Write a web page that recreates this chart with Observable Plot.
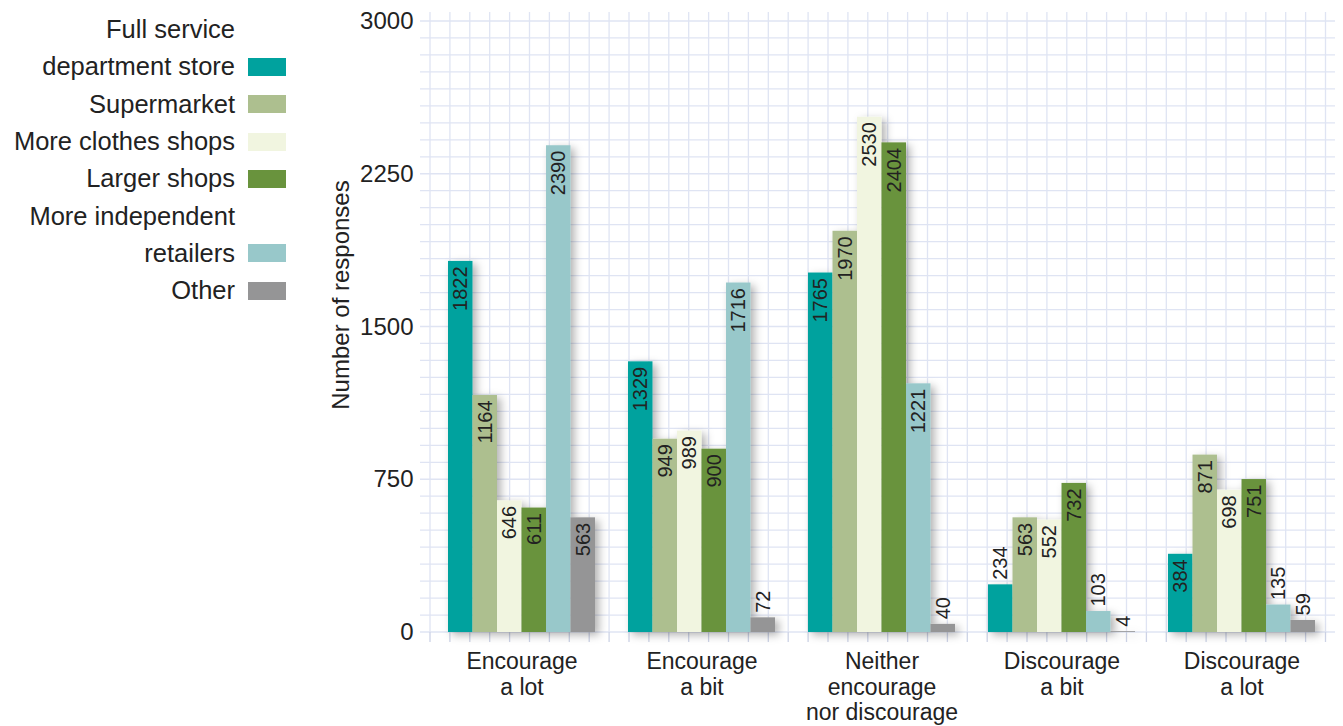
<!DOCTYPE html>
<html>
<head>
<meta charset="utf-8">
<script src="https://cdn.jsdelivr.net/npm/d3@7"></script>
<script src="https://cdn.jsdelivr.net/npm/@observablehq/plot@0.6"></script>
<style>
  html, body { margin: 0; padding: 0; background: #fff; }
  #chart { position: relative; width: 1343px; height: 726px; font-family: "Liberation Sans", Arial, sans-serif; color: #222; }
  #chart svg { position: absolute; left: 0; top: 0; }
  #legend { position: absolute; left: 0; top: 11px; width: 290px; z-index: 2; }
  #legend .row { height: 37.3px; display: flex; align-items: center; justify-content: flex-end; font-size: 25.5px; white-space: nowrap; }
  #legend .sw { width: 38px; height: 18px; margin-left: 13px; margin-right: 4px; flex: none; }
</style>
</head>
<body>
<div id="chart"><div id="legend"></div></div>
<script>
// Survey answers: how each kind of shop would affect visits to the town centre
const groups = [
  "Encourage\na lot",
  "Encourage\na bit",
  "Neither\nencourage\nnor discourage",
  "Discourage\na bit",
  "Discourage\na lot"
];
const series = [
  "Full service\ndepartment store",
  "Supermarket",
  "More clothes shops",
  "Larger shops",
  "More independent\nretailers",
  "Other"
];
const colors = ["#00a29e", "#adbf8f", "#f1f5e0", "#69933d", "#98c8ca", "#959596"];

// Number of responses per answer, one array per series (in group order)
const departmentStore = [1822, 1329, 1765, 234, 384];
const supermarket     = [1164,  949, 1970, 563, 871];
const clothesShops    = [ 646,  989, 2530, 552, 698];
const largerShops     = [ 611,  900, 2404, 732, 751];
const independents    = [2390, 1716, 1221, 103, 135];
const other           = [ 563,   72,   40,   4,  59];
const seriesValues = [departmentStore, supermarket, clothesShops, largerShops, independents, other];

const yTicks = [0, 750, 1500, 2250, 3000];
const yTitle = "Number of responses";

// Tidy rows for the marks
const rows = [];
series.forEach((s, i) => groups.forEach((g, j) => rows.push({series: s, si: i, group: g, value: seriesValues[i][j]})));

// Layout
const W = 1343, H = 726, mL = 431, mR = 12, mT = 21, mB = 94;
const padIn = 0.185, padOut = 0.087;
const step = (W - mL - mR) / (groups.length - padIn + 2 * padOut);
const bandW = step * (1 - padIn);
const barW = bandW / series.length;

// Graph-paper background: light rules across the whole frame, ticks under the baseline
function paper(index, {y}, channels, dims) {
  const g = d3.create("svg:g").attr("fill", "none");
  const left = dims.marginLeft - 1, right = dims.width - 8;
  const y0 = y(0), yTop = y(3000);
  const lines = g.append("g").attr("stroke", "#dfe4f3").attr("stroke-width", 1.3);
  for (const v of d3.range(0, 3000.01, 3000 / 36)) {
    lines.append("line").attr("x1", left - 10).attr("x2", right).attr("y1", y(v)).attr("y2", y(v));
  }
  const ticks = g.append("g").attr("stroke", "#cdd3e6").attr("stroke-width", 1.3);
  for (let x = left; x <= right; x += 19.9) {
    lines.append("line").attr("x1", x).attr("x2", x).attr("y1", yTop - 9).attr("y2", y0);
    ticks.append("line").attr("x1", x).attr("x2", x).attr("y1", y0).attr("y2", y0 + 10);
  }
  return g.node();
}

const barMarks = series.map((s, i) =>
  Plot.barY(rows.filter(r => r.si === i), {
    x: "group", y: "value", fill: colors[i],
    insetLeft: i * barW, insetRight: (series.length - 1 - i) * barW
  })
);

// Value labels: inside the top of tall bars, above short ones
const labelMarks = series.flatMap((s, i) => {
  const dx = -bandW / 2 + (i + 0.5) * barW;
  const mine = rows.filter(r => r.si === i);
  return [
    Plot.text(mine.filter(r => r.value >= 300), {
      x: "group", y: "value", text: d => String(d.value), rotate: -90,
      textAnchor: "end", dx, dy: 5, fontSize: 20
    }),
    Plot.text(mine.filter(r => r.value < 300), {
      x: "group", y: "value", text: d => String(d.value), rotate: -90,
      textAnchor: "start", dx, dy: -5, fontSize: 20
    })
  ];
});

const svg = Plot.plot({
  width: W, height: H,
  marginLeft: mL, marginRight: mR, marginTop: mT, marginBottom: mB,
  style: {fontFamily: "'Liberation Sans', Arial, sans-serif", fontSize: "23px", color: "#222", background: "transparent", overflow: "visible"},
  x: {domain: groups, paddingInner: padIn, paddingOuter: padOut, axis: null},
  y: {domain: [0, 3000], axis: null},
  marks: [
    paper,
    ...barMarks,
    ...labelMarks,
    Plot.text(yTicks, {y: d => d, text: d => String(d), frameAnchor: "left", textAnchor: "end", dx: -18, fontSize: 24}),
    Plot.text(groups, {x: d => d, text: d => d, frameAnchor: "bottom", textAnchor: "middle", lineAnchor: "top", lineHeight: 1.12, dy: 18, fontSize: 23}),
    Plot.text([yTitle], {text: d => d, frameAnchor: "left", textAnchor: "middle", rotate: -90, dx: -90, dy: -32, fontSize: 24})
  ]
});

// Soft drop shadow under all the bars together
const ns = "http://www.w3.org/2000/svg";
const defs = document.createElementNS(ns, "defs");
defs.innerHTML = '<filter id="barShadow" x="-10%" y="-10%" width="130%" height="130%">' +
  '<feDropShadow dx="4" dy="3" stdDeviation="4" flood-color="#000" flood-opacity="0.3"/></filter>';
svg.insertBefore(defs, svg.firstChild);
const barGroups = svg.querySelectorAll('g[aria-label="bar"]');
const wrap = document.createElementNS(ns, "g");
wrap.setAttribute("filter", "url(#barShadow)");
barGroups[0].parentNode.insertBefore(wrap, barGroups[0]);
barGroups.forEach(g => wrap.appendChild(g));

document.getElementById("chart").appendChild(svg);

// Legend: right-aligned names with a swatch on the last line of each
const legend = d3.select("#legend");
series.forEach((s, i) => {
  const lines = s.split("\n");
  lines.forEach((line, k) => {
    const row = legend.append("div").attr("class", "row");
    row.append("span").text(line);
    row.append("span").attr("class", "sw")
      .style("background", k === lines.length - 1 ? colors[i] : "transparent");
  });
});
</script>
</body>
</html>
